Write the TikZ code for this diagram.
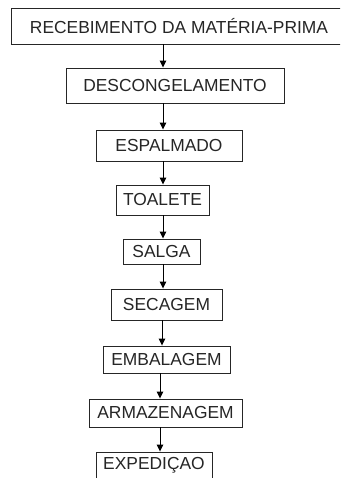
\documentclass[tikz,border=0pt]{standalone}
\usepackage{fontspec}
\setmainfont{Liberation Sans}
\usetikzlibrary{arrows.meta}
\begin{document}
\begin{tikzpicture}[x=1pt,y=-1pt,
  stepbox/.style={draw=black!85,line width=0.9pt,fill=white,inner sep=0pt,
    font=\fontsize{17.4}{17.4}\selectfont,text=black!85,anchor=center},
  arr/.style={draw=black,line width=1pt,-{Triangle[length=7pt,width=6.5pt]}}]
\useasboundingbox (0,0) rectangle (340,478);
\clip (0,0) rectangle (340,478);
\fill[white] (0,0) rectangle (340,478);
\node[stepbox,minimum width=336,minimum height=36] (b1) at (179,26) {RECEBIMENTO DA MATÉRIA-PRIMA};
\node[stepbox,minimum width=218,minimum height=35] (b2) at (175,85.5) {DESCONGELAMENTO};
\node[stepbox,minimum width=146,minimum height=31] (b3) at (169,145.5) {ESPALMADO};
\node[stepbox,minimum width=93,minimum height=30] (b4) at (162.5,200) {TOALETE};
\node[stepbox,minimum width=77,minimum height=25] (b5) at (161.5,251.5) {SALGA};
\node[stepbox,minimum width=111,minimum height=31] (b6) at (166.5,304.5) {SECAGEM};
\node[stepbox,minimum width=127,minimum height=27] (b7) at (166.5,359.5) {EMBALAGEM};
\node[stepbox,minimum width=153,minimum height=28] (b8) at (165.5,413) {ARMAZENAGEM};
\node[stepbox,minimum width=116,minimum height=27] (b9) at (154,465.5) {EXPEDIÇAO};
\draw[arr] (b1.south -| 163,0) -- (b2.north -| 163,0);
\draw[arr] (b2.south -| 163,0) -- (b3.north -| 163,0);
\draw[arr] (b3.south -| 163,0) -- (b4.north -| 163,0);
\draw[arr] (b4.south -| 163,0) -- (b5.north -| 163,0);
\draw[arr] (b5.south -| 163,0) -- (b6.north -| 163,0);
\draw[arr] (b6.south -| 162,0) -- (b7.north -| 162,0);
\draw[arr] (b7.south -| 160,0) -- (b8.north -| 160,0);
\draw[arr] (b8.south -| 160,0) -- (b9.north -| 160,0);
\end{tikzpicture}
\end{document}
